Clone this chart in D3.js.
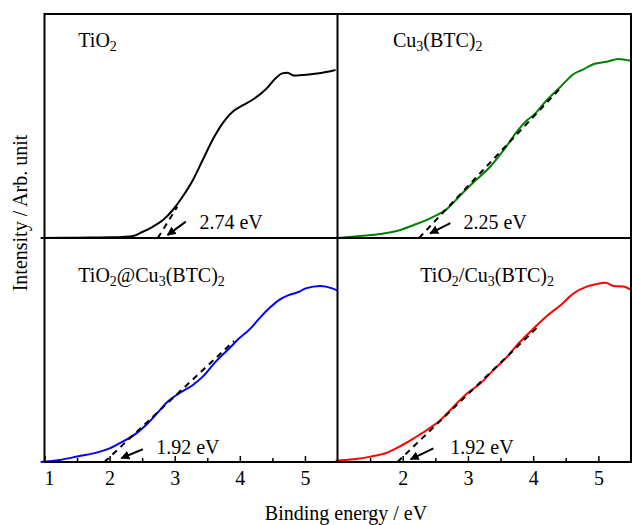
<!DOCTYPE html>
<html>
<head>
<meta charset="utf-8">
<script src="https://cdn.jsdelivr.net/npm/d3@7"></script>
<style>
  body { margin: 0; background: #fff; }
  svg text { font-family: "Liberation Serif", "Times New Roman", serif; fill: #000; }
</style>
</head>
<body>
<div id="plot"></div>
<script>
const W = 632, H = 525;

// spectra: energy (eV) and intensity (fraction of panel height)
const tio2E = [0.94, 1.3, 1.7, 2.0, 2.2, 2.36, 2.51, 2.66, 2.82, 2.97, 3.12, 3.28, 3.43, 3.58, 3.735, 3.89, 3.99, 4.19, 4.40, 4.55, 4.65, 4.73, 4.83, 5.01, 5.22, 5.47],
      tio2I = [0, 0.001, 0.002, 0.003, 0.005, 0.009, 0.028, 0.05, 0.08, 0.125, 0.184, 0.259, 0.348, 0.4375, 0.512, 0.564, 0.583, 0.616, 0.664, 0.713, 0.735, 0.738, 0.725, 0.729, 0.735, 0.75];
const cuE = [1.0, 1.35, 1.66, 1.965, 2.17, 2.42, 2.68, 2.88, 3.09, 3.34, 3.55, 3.75, 3.91, 4.01, 4.21, 4.42, 4.62, 4.77, 4.93, 5.13, 5.31, 5.5],
      cuI = [0, 0.009, 0.018, 0.036, 0.058, 0.088, 0.13, 0.19, 0.25, 0.318, 0.393, 0.475, 0.527, 0.549, 0.616, 0.675, 0.732, 0.753, 0.777, 0.787, 0.799, 0.79];
const coreE = [0.94, 1.23, 1.54, 1.80, 2.0, 2.20, 2.41, 2.56, 2.715, 2.89, 3.07, 3.28, 3.43, 3.63, 3.84, 3.99, 4.14, 4.30, 4.45, 4.60, 4.76, 4.91, 5.01, 5.24, 5.42, 5.50],
      coreI = [0, 0.009, 0.027, 0.042, 0.061, 0.091, 0.128, 0.165, 0.213, 0.269, 0.307, 0.344, 0.381, 0.448, 0.508, 0.552, 0.589, 0.641, 0.686, 0.723, 0.746, 0.76, 0.775, 0.786, 0.775, 0.765];
const mixE = [0.97, 1.25, 1.51, 1.76, 1.965, 2.17, 2.37, 2.58, 2.78, 2.99, 3.19, 3.39, 3.60, 3.80, 4.01, 4.21, 4.42, 4.62, 4.82, 4.98, 5.11, 5.23, 5.38, 5.5],
      mixI = [0.006, 0.012, 0.024, 0.042, 0.071, 0.106, 0.143, 0.1875, 0.247, 0.307, 0.351, 0.41, 0.47, 0.537, 0.597, 0.652, 0.70, 0.753, 0.783, 0.795, 0.80, 0.786, 0.783, 0.768];

const names = ["TiO_2", "Cu_3(BTC)_2", "TiO_2@Cu_3(BTC)_2", "TiO_2/Cu_3(BTC)_2"];
const colors = ["#000000", "#008000", "#0000ff", "#ff0000"];
const gaps = [2.74, 2.25, 1.92, 1.92];
const tangentEnd = [[3.04, 0.14], [4.42, 0.67], [3.91, 0.54], [4.06, 0.60]];
const arrowTail = [[3.17, 0.073], [2.73, 0.066], [2.51, 0.057], [2.47, 0.061]];
const arrowTip = [[2.89, 0.013], [2.42, 0.021], [2.18, 0.017], [2.12, 0.012]];
const majorTicks = [1, 2, 3, 4, 5],
      minorTicks = [1.5, 2.5, 3.5, 4.5];

const series = [[tio2E, tio2I], [cuE, cuI], [coreE, coreI], [mixE, mixI]];

// panel layout (pixels)
const colX = [[44.5, 337.5], [337.5, 631]],
      rowY = [[238, 14], [462, 238]];
const namePos = [[1.52, 0.854], [1.85, 0.854], [1.52, 0.805], [2.27, 0.805]],
      gapTextPos = [[3.38, 0.04], [2.93, 0.04], [2.715, 0.036], [2.73, 0.036]];

const svg = d3.select("#plot").append("svg")
  .attr("width", W)
  .attr("height", H);

svg.append("defs").append("marker")
  .attr("id", "arrow")
  .attr("viewBox", "0 0 10 10")
  .attr("refX", 9).attr("refY", 5)
  .attr("markerWidth", 4.5).attr("markerHeight", 4.5)
  .attr("markerUnits", "strokeWidth")
  .attr("orient", "auto")
  .append("path")
  .attr("d", "M0,0 L10,5 L0,10 z")
  .attr("fill", "#000");

// text with digit subscripts, "_2" -> subscript 2
const subText = (sel, str) => {
  const parts = str.split(/_(\d)/);
  let shift = 0;
  parts.forEach((p, i) => {
    if (!p) return;
    const t = sel.append("tspan").text(p);
    if (i % 2 === 1) {
      t.attr("font-size", 14).attr("dy", 4);
      shift = -4;
    } else if (shift) {
      t.attr("dy", shift);
      shift = 0;
    }
  });
};

series.forEach((s, k) => {
  const col = k % 2, row = Math.floor(k / 2);
  const x = d3.scaleLinear().domain([1, 5.5]).range(colX[col]),
        y = d3.scaleLinear().domain([0, 1]).range(rowY[row]);
  const g = svg.append("g");

  // bottom axis ticks only for lower panels
  if (row === 1) {
    g.append("g")
      .attr("transform", `translate(0,${rowY[row][0]})`)
      .call(d3.axisBottom(x).tickValues(minorTicks).tickSize(-4).tickFormat(""))
      .call(a => a.select(".domain").remove())
      .call(a => a.selectAll("text").remove())
      .selectAll("line").attr("stroke-width", 1.5);
    const ax = g.append("g")
      .attr("transform", `translate(0,${rowY[row][0]})`)
      .call(d3.axisBottom(x)
        .tickValues(col === 0 ? majorTicks : majorTicks.slice(1))
        .tickSize(-6).tickPadding(9).tickFormat(d3.format("d")))
      .call(a => a.select(".domain").remove());
    ax.selectAll("line").attr("stroke-width", 1.5);
    ax.selectAll("text")
      .attr("font-size", 20)
      .attr("font-family", "Liberation Serif")
      .attr("dx", d => d === 1 ? 4.5 : 0);
  }

  const pts = s[0].map((e, i) => [e, s[1][i]]);
  g.append("path")
    .datum(pts)
    .attr("fill", "none")
    .attr("stroke", colors[k])
    .attr("stroke-width", 2)
    .attr("d", d3.line().x(d => x(d[0])).y(d => y(d[1])).curve(d3.curveMonotoneX));

  // tangent for band gap
  g.append("line")
    .attr("x1", x(gaps[k])).attr("y1", y(0))
    .attr("x2", x(tangentEnd[k][0])).attr("y2", y(tangentEnd[k][1]))
    .attr("stroke", "#000")
    .attr("stroke-width", 2)
    .style("stroke-dasharray", "6, 5");

  g.append("line")
    .attr("x1", x(arrowTail[k][0])).attr("y1", y(arrowTail[k][1]))
    .attr("x2", x(arrowTip[k][0])).attr("y2", y(arrowTip[k][1]))
    .attr("stroke", "#000")
    .attr("stroke-width", 2)
    .attr("marker-end", "url(#arrow)");

  g.append("text")
    .attr("x", x(gapTextPos[k][0]))
    .attr("y", y(gapTextPos[k][1]))
    .attr("font-size", 20)
    .text(gaps[k].toFixed(2) + " eV");

  subText(g.append("text")
    .attr("x", x(namePos[k][0]))
    .attr("y", y(namePos[k][1]))
    .attr("font-size", 20), names[k]);
});

// frame
svg.append("rect")
  .attr("x", colX[0][0]).attr("y", rowY[0][1])
  .attr("width", colX[1][1] - colX[0][0])
  .attr("height", rowY[1][0] - rowY[0][1])
  .attr("fill", "none").attr("stroke", "#000").attr("stroke-width", 2);
svg.append("line")
  .attr("x1", colX[0][1]).attr("x2", colX[0][1])
  .attr("y1", rowY[0][1]).attr("y2", rowY[1][0])
  .attr("stroke", "#000").attr("stroke-width", 2);
svg.append("line")
  .attr("x1", colX[0][0]).attr("x2", colX[1][1])
  .attr("y1", rowY[0][0]).attr("y2", rowY[0][0])
  .attr("stroke", "#000").attr("stroke-width", 2);

// axis titles
svg.append("text")
  .attr("x", 346).attr("y", 520)
  .attr("text-anchor", "middle")
  .attr("font-size", 20)
  .text("Binding energy / eV");

svg.append("text")
  .attr("transform", "translate(27,213) rotate(-90)")
  .attr("text-anchor", "middle")
  .attr("font-size", 20)
  .text("Intensity / Arb. unit");
</script>
</body>
</html>
